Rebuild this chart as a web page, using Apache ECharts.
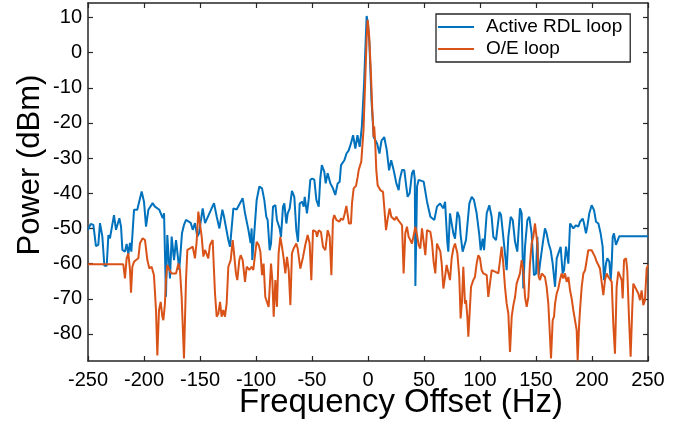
<!DOCTYPE html>
<html>
<head>
<meta charset="utf-8">
<script src="https://cdn.jsdelivr.net/npm/echarts@6/dist/echarts.min.js"></script>
<style>
html,body{margin:0;padding:0;background:#fff;}
#chart{width:687px;height:430px;}
</style>
</head>
<body>
<div id="chart"></div>
<script>
var xTicks = [-250,-200,-150,-100,-50,0,50,100,150,200,250];
var yTicks = [-80,-70,-60,-50,-40,-30,-20,-10,0,10];

var rdlFreq = [-250,-247.6,-245.2,-242.9,-240.8,-239.3,-237.2,-235.4,-233.3,-231.8,-230.4,-226.8,-225,-222,-220.5,-219.3,-217,-215.5,-214,-212.5,-211.3,-208.9,-206,-202.1,-200,-198.2,-196.1,-192.3,-190.2,-188.7,-186.3,-185.1,-183.3,-182.1,-180.4,-179.2,-176.8,-175.3,-173.2,-171.4,-168.5,-166.1,-164.3,-162.5,-158.3,-156.5,-154.5,-152.4,-150.9,-147.6,-145.5,-137.5,-135.1,-132.7,-130,-128.6,-124.7,-123.2,-120.2,-117.3,-111.9,-109.8,-106.8,-104.8,-103.9,-103.3,-99.4,-97,-94.6,-92.6,-90.8,-89.6,-87.8,-86.6,-84.8,-82.7,-81.3,-78.9,-77.7,-75.9,-74.7,-72.9,-71.7,-69.9,-67.9,-65.8,-64,-62.5,-61,-58.9,-57.4,-56.5,-54.5,-53,-51.5,-49.7,-47.9,-46.1,-44,-42.6,-41.2,-39,-37.8,-36,-33.6,-31.3,-29.2,-27.1,-25.3,-24.1,-21.1,-19.2,-17.2,-15.3,-13.3,-11.3,-9.4,-7.4,-5.5,-3.5,-2,-1.2,0,1.2,3.1,5.1,8.2,10.2,12.1,14.5,16.8,18.8,20.7,22.9,25.3,27.4,28.3,30.4,32.4,34.2,35.4,37.2,39.3,40.8,41.8,42.3,43.8,45.2,49.7,51.2,52.7,54.2,55.7,57.1,59.2,61.6,64.3,65.8,67.3,68.8,69.6,70.8,71.7,73.2,74.7,76.2,77.7,79.8,81.5,82.7,84.5,85.7,87.5,88.7,90.5,92.6,94.6,97,99.4,100.6,102.4,103.6,106,108.3,110.4,111.9,114.3,117.3,118.8,120.8,123.8,125.3,127.4,129.2,131.3,133.3,135.7,137.2,138.7,140.2,142.3,144,146.1,148.2,150,151.2,152.4,153.6,156,158,159.5,161.3,163.1,164.9,167,168.5,170.2,172,173.8,175,176.8,178.9,180.4,181.8,183.3,185.7,187.8,189.3,191.7,192.9,194.6,195.8,197.6,199.7,201.8,203.6,205.7,207.7,209.5,210.7,212.5,213.7,215.5,216.7,217.6,218.5,219.6,221.4,222.6,224.4,250];
var rdlPower = [-50.4,-48.7,-49,-55,-54.7,-48.5,-52.3,-60.6,-60.6,-51.9,-52.8,-46.2,-50.4,-47.1,-49.5,-56.1,-56.6,-54.4,-57.3,-54.1,-56.6,-44.7,-44.7,-39.5,-42.4,-49.5,-44.7,-42.8,-43.8,-43.3,-44.7,-44.7,-47.1,-45.7,-69.4,-51.9,-64.2,-52.3,-59,-53.3,-61.8,-51.4,-49,-47.6,-48.4,-50.4,-48.5,-52.3,-51.4,-44.3,-48.5,-42.8,-46.6,-50,-44.7,-46.6,-53.3,-55.2,-44.3,-44.6,-41.4,-45.7,-50.4,-54.2,-50,-59,-41.9,-38.1,-38.6,-41.9,-46.7,-47.6,-56.2,-54.3,-43.8,-43.4,-47.6,-50,-52.4,-43.8,-42.9,-48.6,-45.7,-44.3,-39.3,-41,-50.5,-53.8,-42.9,-42.4,-43.8,-41,-45.7,-41.9,-36.2,-35.8,-36.2,-41.9,-43.8,-35.8,-32,-33.9,-37.2,-34.3,-37.2,-38.6,-40.5,-37.2,-36.7,-32,-30.6,-28.7,-27.8,-25.9,-23.5,-27.3,-23.5,-26.8,-21.1,-8.8,4,10.4,8,3,-13.5,-24,-25.9,-28.7,-25,-24,-27.8,-33.5,-30.6,-33.4,-37.2,-39.1,-36.2,-33.4,-33.4,-38.1,-41,-40,-34.3,-33.4,-36,-66.4,-38.1,-36.2,-36.7,-36.7,-42.4,-42.9,-46.7,-46.2,-47.6,-43.8,-42.9,-43.4,-44.3,-42.4,-42.4,-53.8,-56.6,-45.7,-46.2,-51.4,-52.9,-45.3,-46.7,-51.9,-56.6,-56.2,-53.3,-53.3,-42.9,-41,-41.9,-45.7,-51.9,-56.2,-52.9,-56.2,-45.7,-43.4,-46.7,-52.4,-53.3,-45.3,-46.2,-52.4,-61.9,-52.4,-46.7,-47.6,-53.8,-56.6,-44.3,-45.7,-67.1,-55.2,-47.6,-46.7,-51.4,-63.3,-62.8,-52.4,-63.3,-60,-54.3,-50,-51.4,-54.3,-56.2,-60,-66.6,-58.5,-58.5,-55.2,-62.8,-61.9,-55.2,-60,-48.6,-48.1,-50,-49.1,-49.5,-48.1,-47.2,-48.6,-51.4,-49.5,-45.7,-43.4,-44.8,-48.1,-48.6,-51.4,-55.2,-64.7,-60,-58.5,-59.5,-64.7,-60,-52.4,-51.4,-54.7,-54.7,-52.2,-52.2];

var oeFreq = [-250,-218.5,-217,-215.5,-214,-212.5,-211.6,-210.4,-208.9,-207.1,-205.1,-203.6,-201.2,-199.1,-197,-195.2,-193.2,-191.1,-189.3,-188.1,-186.6,-185.1,-183.6,-182.7,-181.3,-180.4,-179.2,-177.4,-175.3,-173.8,-171.4,-169.3,-167.9,-166.4,-164.3,-162.5,-161.3,-158.9,-156.5,-154.5,-153,-151.5,-150,-148.5,-147,-145.5,-144,-142.6,-141.1,-138.7,-136.6,-135.1,-133.6,-132.1,-130.7,-129.2,-127.7,-126.2,-124.7,-122.6,-120.8,-119.6,-117.9,-116.7,-114.9,-113.7,-111.9,-109.8,-108.3,-106,-103.9,-102.4,-100.9,-99.4,-97.6,-96.1,-94.6,-93.2,-91.7,-90.2,-88.7,-86.6,-85.4,-84.2,-82.7,-81.3,-79.8,-78.3,-76.8,-75.3,-73.8,-72.3,-70.8,-69.3,-67.9,-66.4,-64,-62.8,-60.4,-58,-56,-53.9,-52.1,-50.6,-49.1,-47.6,-46.4,-45.5,-44,-42,-40.2,-38.1,-36,-34.2,-32.7,-31.3,-30.1,-28.3,-27.1,-25.6,-24.1,-22.3,-21.1,-19.3,-18.2,-17,-15.2,-14.3,-12.8,-10.7,-9.2,-8.3,-6,-4,-2.5,-1.2,-0.3,1,2.5,3.8,4.5,5,5.5,6.5,7.4,8.6,11,13.4,14.6,16.1,17.6,19.3,20.8,22.3,23.8,25.3,26.8,28.3,30.4,31.8,33.3,34.8,36.3,37.8,39.3,40.8,42.3,43.8,45.2,46.7,48.2,49.7,51.2,52.7,54.2,55.7,57.1,58.6,60.1,61.6,63.1,64.6,65.8,67.3,68.8,70.2,71.7,73.2,74.7,76.2,77.7,78.6,79.8,81.5,82.7,83.9,85.1,86.6,87.5,88.7,89.6,91.1,92,94,95.5,97,98.5,100,101.5,103,104.5,106,107.4,108.9,110.4,111.9,113.4,114.9,116.4,117.9,119.3,120.8,122.3,123.8,125.3,126.8,128.3,129.8,131.3,132.7,134.2,135.7,137.2,138.7,140.2,141.7,143.2,144.6,146.1,147.6,149.1,150,151.2,152.4,153.6,155.1,156.5,158,159.5,161,161.9,163.4,164.9,166.1,167,168.5,169.9,171.4,172.9,174.4,175.9,177.4,178.9,180.4,181.8,183.3,184.8,186.3,187.2,188.4,189.3,190.8,192.3,193.8,195.2,196.7,198.2,199.7,201.2,202.7,204.2,205.7,207.1,208.6,210.1,211.6,213.1,214.6,216.1,217.6,219,220.5,222,223.5,225,226.5,227.4,228.6,230.4,231.5,233,234.5,236,236.9,238.4,239.9,241.4,242.9,244.3,245.8,247.3,248.8,250];
var oePower = [-60.2,-60.2,-64.2,-58.5,-57.1,-61.8,-68.3,-60.9,-59.5,-59,-58.5,-54.2,-52.8,-53.3,-59,-61.4,-60.9,-63.3,-73.2,-86.1,-73.2,-70.9,-75.1,-76.1,-71.4,-64.7,-60.4,-61.8,-62.8,-62.3,-62.8,-60,-61.8,-69.4,-87,-64.7,-56.1,-55.7,-55.2,-58.5,-53.8,-45.2,-44.7,-52.3,-58,-56.1,-55.7,-58.5,-54.7,-53.3,-68.5,-75.1,-74.2,-70.9,-75.1,-73.2,-75.1,-71.3,-60.9,-59,-53.3,-57.1,-62.8,-64.7,-59,-57.6,-59,-65.2,-60.9,-61.8,-60.9,-61.8,-57.6,-53.8,-54.7,-56.6,-63.3,-60,-69.5,-70.9,-72.3,-60,-64.7,-75.1,-64.7,-72.3,-57.1,-52.4,-55.2,-58.5,-62.8,-58.1,-61.9,-71.8,-57.1,-55.7,-54.3,-55.7,-61.4,-58.1,-54.7,-51.9,-54.3,-64.7,-50.5,-50,-51,-52.4,-50.5,-51,-55.2,-56.2,-50.5,-52.4,-63.3,-47.6,-46.2,-47.6,-47.2,-48.1,-47.2,-47.6,-46.2,-43.6,-43.8,-48.6,-48.6,-42.9,-38.6,-37.9,-35.3,-33.4,-31,-22,-8,4,9.3,5,-5,-16,-20,-24,-21,-26,-33.4,-37.7,-39.1,-39.6,-44.3,-50.5,-47.2,-44.3,-46.7,-46.2,-47.6,-46.7,-47.6,-48.1,-49.1,-62.8,-51.4,-49.5,-52.4,-53.3,-54.3,-51.9,-49.5,-51.9,-54.7,-55.7,-50,-50.5,-57.6,-50.5,-50.5,-51,-53.8,-59.5,-62.8,-54.3,-54.7,-56.6,-60,-67.1,-63.8,-60.4,-60.9,-64.7,-58.5,-55.7,-54.3,-53.8,-57.1,-63.8,-75.6,-70.9,-60.9,-71.4,-70.4,-75.1,-80.8,-80.8,-66.6,-64.7,-63.8,-60,-57.6,-58.5,-61.9,-62.8,-62.3,-63.3,-69.5,-69.5,-61.9,-61.4,-62.3,-61.9,-62.8,-59,-55.2,-60,-66.6,-71.4,-74.2,-85.1,-75.1,-71.8,-69.5,-65.7,-65.7,-62.8,-59,-61.9,-69.5,-72.3,-69.5,-60,-54.3,-52.4,-48.6,-48.6,-54.3,-63.8,-64.7,-62.8,-63.3,-63.8,-66.6,-71.4,-77,-87,-76.1,-75.1,-71.4,-68.5,-67.1,-64.7,-62.8,-64.2,-62.8,-65.2,-63.8,-67.6,-69.9,-73.2,-73.2,-78.9,-87.5,-78,-73.2,-66.6,-62.8,-61.9,-62.3,-56.2,-55.7,-56.2,-56.6,-58.1,-59.5,-60.4,-61.4,-60.9,-69,-64.7,-62.8,-63.8,-63.3,-65.2,-77,-85.6,-66.6,-62.3,-61.9,-64.7,-69.9,-59,-58.5,-61.9,-75.1,-86.5,-72.3,-65.7,-66.1,-67.6,-68.5,-70.4,-67.6,-71.8,-70.4,-61.4,-60.4];

function zip(a, b) { var r = []; for (var i = 0; i < a.length; i++) r.push([a[i], b[i]]); return r; }

var FONT = "'Liberation Sans', Arial, sans-serif";
var AX = '#262626';
var chart = echarts.init(document.getElementById('chart'), null, {renderer: 'canvas'});

function xAx(pos, showLabel) {
  return {
    type: 'value', position: pos, min: -250, max: 250, interval: 50,
    axisLine: {show: true, onZero: false, lineStyle: {color: AX, width: 1.5}},
    axisTick: {show: true, inside: true, length: 5, lineStyle: {color: AX, width: 1.2}, customValues: xTicks},
    axisLabel: {show: showLabel, customValues: xTicks, color: '#000', fontSize: 20, fontFamily: FONT, margin: 9},
    splitLine: {show: false}
  };
}
function yAx(pos, showLabel) {
  return {
    type: 'value', position: pos, min: -87.7, max: 14.1,
    axisLine: {show: true, onZero: false, lineStyle: {color: AX, width: 1.5}},
    axisTick: {show: true, inside: true, length: 5, lineStyle: {color: AX, width: 1.2}, customValues: yTicks},
    axisLabel: {show: showLabel, customValues: yTicks, color: '#000', fontSize: 20, fontFamily: FONT, margin: 6},
    splitLine: {show: false}
  };
}

chart.setOption({
  animation: false,
  backgroundColor: '#fff',
  grid: {left: 88, right: 39, top: 3, bottom: 69, containLabel: false},
  xAxis: [xAx('bottom', true), xAx('top', false)],
  yAxis: [yAx('left', true), yAx('right', false)],
  legend: {
    left: 436, top: 14, orient: 'vertical',
    backgroundColor: '#fff', borderColor: AX, borderWidth: 1.3,
    padding: [2, 8, 2, 2], itemGap: 0, itemWidth: 36, itemHeight: 2, icon: 'rect',
    textStyle: {fontSize: 19, fontFamily: FONT, color: '#000', lineHeight: 22, padding: [0, 0, 0, 7]},
    data: ['Active RDL loop', 'O/E loop']
  },
  graphic: [
    {type: 'text', x: 30, y: 165, rotation: Math.PI / 2,
     style: {text: 'Power (dBm)', fontSize: 31, fontFamily: FONT, fill: '#000', align: 'center', verticalAlign: 'middle'}},
    {type: 'text', x: 401, y: 403,
     style: {text: 'Frequency Offset (Hz)', fontSize: 33, fontFamily: FONT, fill: '#000', align: 'center', verticalAlign: 'middle'}}
  ],
  series: [
    {name: 'Active RDL loop', type: 'line', data: zip(rdlFreq, rdlPower), showSymbol: false, symbol: 'none',
     lineStyle: {color: '#0072BD', width: 2}, itemStyle: {color: '#0072BD'}, clip: true, emphasis: {disabled: true}},
    {name: 'O/E loop', type: 'line', data: zip(oeFreq, oePower), showSymbol: false, symbol: 'none',
     lineStyle: {color: '#D95319', width: 2}, itemStyle: {color: '#D95319'}, clip: true, emphasis: {disabled: true}}
  ]
});
</script>
</body>
</html>
